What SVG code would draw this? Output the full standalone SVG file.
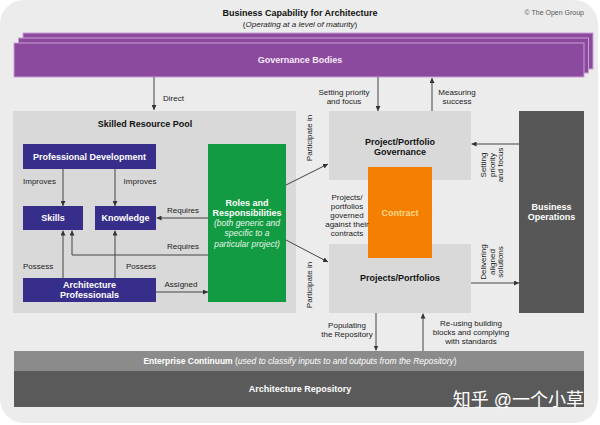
<svg xmlns="http://www.w3.org/2000/svg" width="600" height="425" viewBox="0 0 600 425">
<defs>
<marker id="ah" viewBox="0 0 6 6" refX="6" refY="3" markerWidth="5" markerHeight="5" orient="auto" markerUnits="userSpaceOnUse">
<path d="M0,0 L6,3 L0,6 Z" fill="#333"/>
</marker>
<style>
text{font-family:"Liberation Sans",Arial,sans-serif;}
.lbl{font-size:8px;fill:#222;}
.ttl{font-size:9px;font-weight:bold;fill:#111;text-anchor:middle;}
.wb{font-size:9px;font-weight:bold;fill:#fff;text-anchor:middle;}
.blue{fill:#372e8c;}
.grey{fill:#d9d9d9;}
.conn path,.conn line{stroke:#444;stroke-width:1;fill:none;marker-end:url(#ah);}
.gb{fill:#8b4a9d;stroke:#c79fd3;stroke-width:1;}
</style>
</defs>
<rect x="0" y="0" width="598" height="423" rx="24" fill="#ececec"/>
<g id="title">
<text x="300" y="16" class="ttl">Business Capability for Architecture</text>
<text x="300" y="27" class="lbl" text-anchor="middle">(<tspan font-style="italic">Operating at a level of maturity</tspan>)</text>
<text x="584" y="15" font-size="7px" fill="#555" text-anchor="end">© The Open Group</text>
</g>
<g id="governance-bodies">
<rect class="gb" x="23" y="33" width="570" height="36"/>
<rect class="gb" x="18.5" y="38" width="570" height="35"/>
<rect class="gb" x="14" y="43" width="570" height="34"/>
<text x="300" y="63" class="wb" fill="#f4e6f6" style="fill:#f6e8f8">Governance Bodies</text>
</g>
<g id="skilled-resource-pool">
<rect class="grey" x="13" y="111" width="283" height="202"/>
<text x="145" y="127" class="ttl">Skilled Resource Pool</text>
</g>
<g id="professional-development">
<rect class="blue" x="23" y="144" width="133" height="25"/>
<text x="89.5" y="160" class="wb">Professional Development</text>
</g>
<g id="skills">
<rect class="blue" x="23" y="206" width="60" height="24"/>
<text x="53" y="221" class="wb">Skills</text>
</g>
<g id="knowledge">
<rect class="blue" x="95" y="206" width="61" height="24"/>
<text x="125.5" y="221" class="wb">Knowledge</text>
</g>
<g id="architecture-professionals">
<rect class="blue" x="23" y="278" width="133" height="24"/>
<text x="89.5" y="288" class="wb">Architecture</text>
<text x="89.5" y="298" class="wb">Professionals</text>
</g>
<g id="roles-and-responsibilities">
<rect x="208" y="144" width="78" height="158" fill="#129b42"/>
<text x="247" y="206" class="wb">Roles and</text>
<text x="247" y="216" class="wb">Responsibilities</text>
<g font-size="8.5px" font-style="italic" fill="#e6f5ea" text-anchor="middle">
<text x="247" y="226">(both generic and</text>
<text x="247" y="236">specific to a</text>
<text x="247" y="247">particular project)</text>
</g>
</g>
<g id="project-portfolio-governance">
<rect class="grey" x="329" y="111" width="142" height="69"/>
<text x="400" y="145" class="ttl">Project/Portfolio</text>
<text x="400" y="155" class="ttl">Governance</text>
</g>
<g id="projects-portfolios">
<rect class="grey" x="329" y="244" width="142" height="69"/>
<text x="400" y="281" class="ttl">Projects/Portfolios</text>
</g>
<g id="contract">
<rect x="368" y="167" width="64" height="91" fill="#f57f00"/>
<text x="400" y="216" class="wb" style="fill:#ffd98a">Contract</text>
</g>
<g id="business-operations">
<rect x="519" y="111" width="65" height="202" fill="#575757"/>
<text x="551.5" y="210" class="wb">Business</text>
<text x="551.5" y="220" class="wb">Operations</text>
</g>
<g id="enterprise-continuum">
<rect x="14" y="351" width="570" height="20" fill="#8b8b8b"/>
<text x="300" y="364" font-size="8.5px" fill="#fff" text-anchor="middle"><tspan font-weight="bold">Enterprise Continuum</tspan> (<tspan font-style="italic">used to classify inputs to and outputs from the Repository</tspan>)</text>
</g>
<g id="architecture-repository">
<rect x="14" y="371" width="570" height="36" fill="#5a5a5a"/>
<text x="300" y="392" class="wb">Architecture Repository</text>
<text x="584" y="406" font-size="18px" fill="#fff" text-anchor="end" style="font-family:'Liberation Sans','Noto Sans CJK SC',sans-serif">知乎 @一个小草</text>
</g>
<g id="connectors" class="conn">
<line x1="154" y1="77" x2="154" y2="110"/>
<line x1="378" y1="77" x2="378" y2="111"/>
<line x1="432" y1="111" x2="432" y2="78"/>
<line x1="63" y1="169" x2="63" y2="206"/>
<line x1="115" y1="169" x2="115" y2="206"/>
<line x1="208" y1="218" x2="156.5" y2="218"/>
<path d="M208,255 H72 V230.5"/>
<line x1="63" y1="278" x2="63" y2="230.5"/>
<line x1="115" y1="278" x2="115" y2="230.5"/>
<line x1="156" y1="292" x2="208" y2="292"/>
<line x1="286" y1="185" x2="328" y2="164"/>
<line x1="286" y1="240" x2="328" y2="262"/>
<line x1="519" y1="144" x2="471.5" y2="144"/>
<line x1="471" y1="283" x2="519" y2="283"/>
<line x1="376" y1="313" x2="376" y2="350.5"/>
<line x1="423" y1="351" x2="423" y2="313.5"/>
</g>
<g id="connector-labels" class="lbl">
<text x="163" y="101">Direct</text>
<text x="344" y="95" text-anchor="middle">Setting priority</text>
<text x="344" y="104" text-anchor="middle">and focus</text>
<text x="457" y="95" text-anchor="middle">Measuring</text>
<text x="457" y="104" text-anchor="middle">success</text>
<text x="23" y="184">Improves</text>
<text x="140" y="184" text-anchor="middle">Improves</text>
<text x="183" y="213" text-anchor="middle">Requires</text>
<text x="183" y="249" text-anchor="middle">Requires</text>
<text x="23" y="269">Possess</text>
<text x="141" y="269" text-anchor="middle">Possess</text>
<text x="181" y="287" text-anchor="middle">Assigned</text>
<text transform="translate(312,138) rotate(-90)" text-anchor="middle">Participate in</text>
<text transform="translate(312,285) rotate(-90)" text-anchor="middle">Participate in</text>
<g text-anchor="middle">
<text x="347" y="200">Projects/</text>
<text x="347" y="209">portfolios</text>
<text x="347" y="218">governed</text>
<text x="347" y="227">against their</text>
<text x="347" y="236">contracts</text>
</g>
<text transform="translate(486,165) rotate(-90)" text-anchor="middle">Setting<tspan x="0" dy="8.5">priority</tspan><tspan x="0" dy="8.5">and focus</tspan></text>
<text transform="translate(486,262) rotate(-90)" text-anchor="middle">Delivering<tspan x="0" dy="8.5">aligned</tspan><tspan x="0" dy="8.5">solutions</tspan></text>
<text x="347" y="328" text-anchor="middle">Populating</text>
<text x="347" y="337" text-anchor="middle">the Repository</text>
<text x="471" y="326" text-anchor="middle">Re-using building</text>
<text x="471" y="335" text-anchor="middle">blocks and complying</text>
<text x="471" y="344" text-anchor="middle">with standards</text>
</g>
</svg>
